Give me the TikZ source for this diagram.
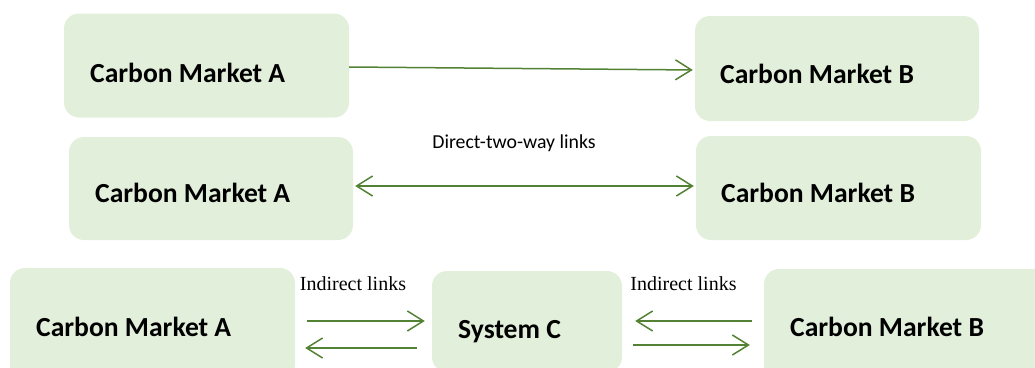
\documentclass[tikz,border=0pt]{standalone}
\usepackage{fontspec}
\setmainfont{Carlito}
\newfontfamily\serifface{Liberation Serif}
\usepackage{tikz}
\usetikzlibrary{arrows.meta,calc}

\definecolor{boxgreen}{RGB}{226,239,218}
\definecolor{linkgreen}{RGB}{84,130,53}

\begin{document}
\begin{tikzpicture}[
  x=1pt, y=-1pt,
  market/.style={fill=boxgreen, rounded corners=15pt, inner sep=0pt},
  mlabel/.style={anchor=base west, inner sep=0pt,
                 font=\fontsize{27.6}{32}\selectfont\bfseries},
  link/.style={draw=linkgreen, line width=1.5pt,
               -{Straight Barb[length=16pt,width=20pt,line width=1.5pt]}},
  twoway/.style={link, {Straight Barb[length=16pt,width=20pt,line width=1.5pt]}-{Straight Barb[length=16pt,width=20pt,line width=1.5pt]}},
  note/.style={inner sep=0pt, font=\fontsize{19.8}{24}\selectfont},
  snote/.style={inner sep=0pt, font=\serifface\fontsize{20}{24}\selectfont}]
  \useasboundingbox (0,0) rectangle (1035,367);
  \clip (0,0) rectangle (1035,367);

  % one-way link
  \node[market, minimum width=285pt, minimum height=104pt] (a1) at (206.5,65.5) {};
  \node[market, minimum width=284pt, minimum height=105pt] (b1) at (837,68.5) {};
  \node[mlabel] (a1t) at (90,82) {Carbon Market A};
  \node[mlabel] (b1t) at (720,83) {Carbon Market B};
  \draw[link, shorten >=2pt] ([yshift=-1.5pt]a1.east) -- ([yshift=-1.5pt]b1.west);

  % two-way link
  \node[market, minimum width=284pt, minimum height=103pt] (a2) at (211,188.5) {};
  \node[market, minimum width=285pt, minimum height=104pt] (b2) at (838.5,188) {};
  \node[mlabel] (a2t) at (95,202) {Carbon Market A};
  \node[mlabel] (b2t) at (721,202) {Carbon Market B};
  \node[note] (direct) at (514,143) {Direct-two-way links};
  \draw[twoway, shorten <=2pt, shorten >=2pt]
    ([yshift=2.5pt]a2.east) -- ([yshift=2pt]b2.west);

  % indirect links through system C
  \node[market, minimum width=285pt, minimum height=112pt] (a3) at (152.5,324) {};
  \node[market, minimum width=190pt, minimum height=101pt] (c) at (527,321.5) {};
  \node[market, minimum width=286pt, minimum height=111pt] (b3) at (907,324.5) {};
  \node[mlabel] (a3t) at (36,336) {Carbon Market A};
  \node[mlabel] (ct) at (458,338) {System C};
  \node[mlabel] (b3t) at (790,336) {Carbon Market B};
  \node[snote] (ind1) at (353,284) {Indirect links};
  \node[snote] (ind2) at (683.5,284) {Indirect links};
  \draw[link, shorten <=12pt, shorten >=7pt]
    ([yshift=3pt]a3.east) -- ([yshift=0.5pt]c.west);
  \draw[link, shorten <=15pt, shorten >=10pt]
    ([yshift=-26.5pt]c.west) -- ([yshift=-24pt]a3.east);
  \draw[link, shorten <=12pt, shorten >=13pt]
    ([yshift=3.5pt]b3.west) -- ([yshift=0.5pt]c.east);
  \draw[link, shorten <=11pt, shorten >=14pt]
    ([yshift=-23.5pt]c.east) -- ([yshift=-20.5pt]b3.west);
\end{tikzpicture}
\end{document}
